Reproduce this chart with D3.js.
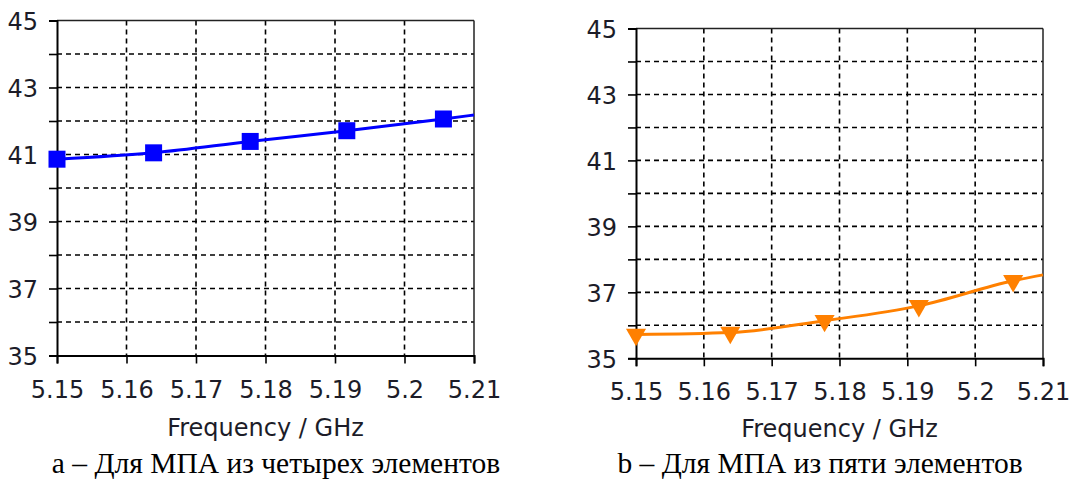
<!DOCTYPE html>
<html><head><meta charset="utf-8">
<script src="https://cdn.jsdelivr.net/npm/d3@7"></script>
<style>
html,body{margin:0;padding:0;background:#fff;}
svg{display:block;}
</style>
</head><body>
<svg id="c" width="1070" height="482"></svg>
<script>
// ---- data ----
const xTicks = [5.15, 5.16, 5.17, 5.18, 5.19, 5.2, 5.21];
const xTickLabels = ["5.15", "5.16", "5.17", "5.18", "5.19", "5.2", "5.21"];
const yGrid = [35, 36, 37, 38, 39, 40, 41, 42, 43, 44, 45];
const yTickLabels = [35, 37, 39, 41, 43, 45];
const freqA = [5.15, 5.1639, 5.1778, 5.1917, 5.2056, 5.21];
const gainA = [40.86, 41.05, 41.39, 41.71, 42.06, 42.18];
const freqB = [5.15, 5.1639, 5.1778, 5.1917, 5.2056, 5.21];
const gainB = [35.72, 35.78, 36.14, 36.59, 37.35, 37.53];
const markerCount = 5;
const axisTitle = "Frequency / GHz";
const captionA = "a – Для МПА из четырех элементов";
const captionB = "b – Для МПА из пяти элементов";

const svg = d3.select("#c");
svg.append("rect").attr("width",1070).attr("height",482).attr("fill","#fff");

const panels = [
  {x0:57, x1:474, y0:20.5, y1:355.5, freq:freqA, gain:gainA, color:"#0000ff",
   sym:d3.symbolSquare, size:17*17, rot:0, caption:captionA, capX:276, titleY:436, lblGap:42},
  {x0:636, x1:1043, y0:28.5, y1:358.3, freq:freqB, gain:gainB, color:"#ff8000",
   sym:d3.symbolTriangle, size:175, rot:180, caption:captionB, capX:820, titleY:437, lblGap:42}
];

const labFont = "'DejaVu Sans',sans-serif";

panels.forEach(p => {
  const x = d3.scaleLinear().domain([5.15, 5.21]).range([p.x0, p.x1]);
  const y = d3.scaleLinear().domain([35, 45]).range([p.y1, p.y0]);
  const g = svg.append("g");

  // grid
  g.selectAll(".hg").data(yGrid.filter(v => v > 35 && v < 45)).enter().append("line")
    .attr("x1", p.x0).attr("x2", p.x1).attr("y1", d => y(d)).attr("y2", d => y(d))
    .attr("stroke", "#000").attr("stroke-width", 1.6).attr("stroke-dasharray", "5,4");
  g.selectAll(".vg").data(xTicks.filter(v => v > 5.15 && v < 5.21)).enter().append("line")
    .attr("y1", p.y0).attr("y2", p.y1).attr("x1", d => x(d)).attr("x2", d => x(d))
    .attr("stroke", "#000").attr("stroke-width", 1.6).attr("stroke-dasharray", "5,4");

  // frame
  g.append("line").attr("x1", p.x0).attr("x2", p.x1).attr("y1", p.y0).attr("y2", p.y0)
    .attr("stroke", "#222").attr("stroke-width", 1.5);
  g.append("line").attr("x1", p.x1).attr("x2", p.x1).attr("y1", p.y0).attr("y2", p.y1)
    .attr("stroke", "#222").attr("stroke-width", 1.5);

  // axes
  const ya = d3.axisLeft(y).tickValues(yGrid).tickSize(8).tickFormat(d => yTickLabels.includes(d) ? d : "");
  const ag = g.append("g").attr("transform", `translate(${p.x0},0)`).call(ya);
  ag.select(".domain").attr("stroke", "#000").attr("stroke-width", 2);
  ag.selectAll(".tick line").attr("stroke", "#000").attr("stroke-width", 1.6);
  ag.selectAll(".tick text").attr("x", -19).attr("dy", "0.38em")
    .attr("font-family", labFont).attr("font-size", 24).attr("fill", "#1c1c28");

  const xa = d3.axisBottom(x).tickValues(xTicks).tickSize(8).tickFormat((d, i) => xTickLabels[i]);
  const bg = g.append("g").attr("transform", `translate(0,${p.y1})`).call(xa);
  bg.select(".domain").attr("stroke", "#000").attr("stroke-width", 2);
  bg.selectAll(".tick line").attr("stroke", "#000").attr("stroke-width", 1.6);
  bg.selectAll(".tick text").attr("y", p.lblGap).attr("dy", 0)
    .attr("font-family", labFont).attr("font-size", 24).attr("fill", "#1c1c28");

  // series line
  const pts = p.freq.map((f, i) => [f, p.gain[i]]);
  const line = d3.line().x(d => x(d[0])).y(d => y(d[1])).curve(d3.curveMonotoneX);
  g.append("path").attr("d", line(pts)).attr("fill", "none")
    .attr("stroke", p.color).attr("stroke-width", 3);

  // markers
  const sym = d3.symbol().type(p.sym).size(p.size);
  g.selectAll(".mk").data(pts.slice(0, markerCount)).enter().append("path")
    .attr("d", sym)
    .attr("transform", d => `translate(${x(d[0])},${y(d[1])}) rotate(${p.rot})`)
    .attr("fill", p.color);

  // axis title
  g.append("text").attr("x", (p.x0 + p.x1) / 2).attr("y", p.titleY)
    .attr("text-anchor", "middle").attr("font-family", labFont).attr("font-size", 24)
    .attr("fill", "#1c1c28").text(axisTitle);

  // caption
  g.append("text").attr("x", p.capX).attr("y", 473)
    .attr("text-anchor", "middle").attr("font-family", "'Liberation Serif','Times New Roman',serif")
    .attr("font-size", 29.5).attr("fill", "#000").text(p.caption);
});
</script>
</body></html>
